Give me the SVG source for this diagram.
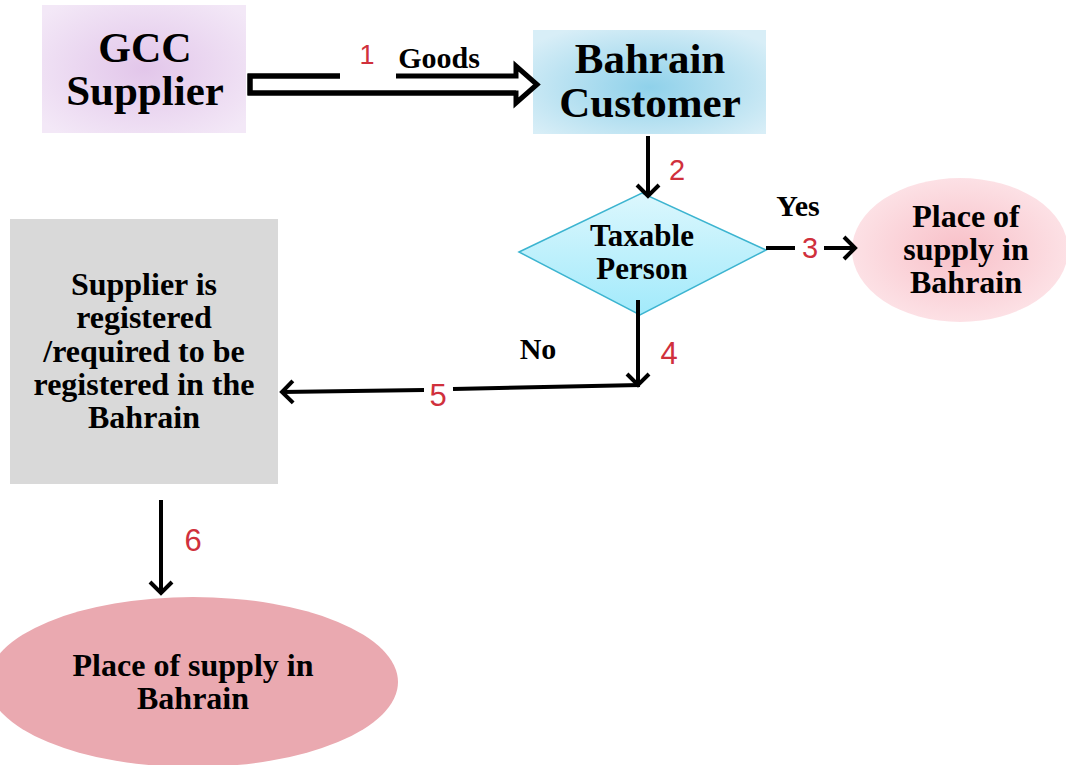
<svg xmlns="http://www.w3.org/2000/svg" width="1066" height="765" viewBox="0 0 1066 765">
<defs>
<radialGradient id="gPurple" cx="50%" cy="50%" r="65%"><stop offset="0" stop-color="#e2c6ea"/><stop offset="1" stop-color="#f3e8f7"/></radialGradient>
<radialGradient id="gBlue" cx="50%" cy="55%" r="65%"><stop offset="0" stop-color="#8fd1ea"/><stop offset="1" stop-color="#d8eef7"/></radialGradient>
<linearGradient id="gCyan" x1="0" y1="0" x2="0" y2="1"><stop offset="0" stop-color="#dcf7fd"/><stop offset="1" stop-color="#a2eafb"/></linearGradient>
<radialGradient id="gPink" cx="50%" cy="50%" r="55%"><stop offset="0" stop-color="#f8c0c8"/><stop offset="1" stop-color="#fde4e8"/></radialGradient>
<marker id="chev" markerUnits="userSpaceOnUse" markerWidth="26" markerHeight="26" refX="13" refY="12" orient="auto" viewBox="0 0 26 26" overflow="visible">
<path d="M2,1 L13,12 L2,23" fill="none" stroke="#000" stroke-width="4"/>
</marker>
</defs>
<style>
.t{font-family:"Liberation Serif","Times New Roman",serif;font-weight:bold;fill:#000;text-anchor:middle}
.n{font-family:"Liberation Sans",Arial,sans-serif;fill:#d0303c;text-anchor:middle}
.ln{stroke:#000;stroke-width:4;fill:none}
</style>
<g id="gcc-supplier">
<rect x="42" y="5" width="204" height="128" fill="url(#gPurple)"/>
<text class="t" x="145" y="62" font-size="42">GCC</text>
<text class="t" x="145" y="105" font-size="43">Supplier</text>
</g>
<g id="bahrain-customer">
<rect x="533" y="30" width="233" height="104" fill="url(#gBlue)"/>
<text class="t" x="650" y="73" font-size="43">Bahrain</text>
<text class="t" x="650" y="117" font-size="43">Customer</text>
</g>
<g id="taxable-person">
<polygon points="519,252 642,193 766,250 640,315" fill="url(#gCyan)" stroke="#3cb4d0" stroke-width="1.5"/>
<text class="t" x="642" y="246" font-size="31">Taxable</text>
<text class="t" x="642" y="279" font-size="31">Person</text>
</g>
<g id="place-right">
<ellipse cx="960" cy="250" rx="108" ry="72" fill="url(#gPink)"/>
<text class="t" x="966" y="227" font-size="32">Place of</text>
<text class="t" x="966" y="260" font-size="32">supply in</text>
<text class="t" x="966" y="293" font-size="32">Bahrain</text>
</g>
<g id="supplier-registered">
<rect x="10" y="219" width="268" height="265" fill="#d9d9d9"/>
<text class="t" x="144" y="295" font-size="32">Supplier is</text>
<text class="t" x="144" y="328" font-size="32">registered</text>
<text class="t" x="144" y="362" font-size="32">/required to be</text>
<text class="t" x="144" y="395" font-size="32">registered in the</text>
<text class="t" x="144" y="428" font-size="32">Bahrain</text>
</g>
<g id="place-bottom">
<ellipse cx="193" cy="682" rx="205" ry="85" fill="#eaa9b0"/>
<text class="t" x="193" y="676" font-size="32">Place of supply in</text>
<text class="t" x="193" y="709" font-size="32">Bahrain</text>
</g>
<g id="connectors">
<path d="M340,76 H250 V93 H516 V103 L537,84.5 L516,66 V76 H396" fill="#fff" stroke="#000" stroke-width="5" stroke-linejoin="miter"/>
<path d="M340,76 H250 V93 H516" fill="none" stroke="#000" stroke-width="5"/>
<line class="ln" x1="648" y1="136" x2="648" y2="196" marker-end="url(#chev)"/>
<line class="ln" x1="766" y1="248" x2="795" y2="248"/>
<line class="ln" x1="824" y1="248" x2="855" y2="248" marker-end="url(#chev)"/>
<line class="ln" x1="638" y1="300" x2="638" y2="385" marker-end="url(#chev)"/>
<polyline class="ln" points="640,385 453,389"/>
<line class="ln" x1="424" y1="390" x2="282" y2="392" marker-end="url(#chev)"/>
<line class="ln" x1="161" y1="500" x2="161" y2="593" marker-end="url(#chev)"/>
</g>
<g id="labels">
<text class="t" x="439" y="68" font-size="30">Goods</text>
<text class="t" x="798" y="216" font-size="30">Yes</text>
<text class="t" x="538" y="359" font-size="30">No</text>
<text class="n" x="367" y="64" font-size="27">1</text>
<text class="n" x="677" y="180" font-size="29">2</text>
<text class="n" x="810" y="258" font-size="29">3</text>
<text class="n" x="669" y="364" font-size="31">4</text>
<text class="n" x="438" y="406" font-size="31">5</text>
<text class="n" x="193" y="551" font-size="31">6</text>
</g>
</svg>
